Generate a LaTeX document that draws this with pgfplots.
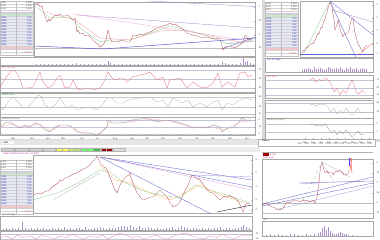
\documentclass[border=0pt]{standalone}
\usepackage{pgfplots}
\pgfplotsset{compat=1.18}
\usepackage{fontspec}
\setmainfont{Liberation Sans}
\definecolor{pr}{HTML}{B04858}
\definecolor{tlb}{HTML}{5A5AD0}
\definecolor{tlp}{HTML}{9A80C4}
\definecolor{tpk}{HTML}{E8A0D0}
\definecolor{rsi}{HTML}{E07080}
\definecolor{osc}{HTML}{B0B0B0}
\definecolor{grd}{HTML}{C4C4D4}
\definecolor{frm}{HTML}{A8A8A8}
\definecolor{vol}{HTML}{A890CC}
\definecolor{tblue}{HTML}{3040C0}
\definecolor{mag}{HTML}{C040A0}
\definecolor{grn}{HTML}{88CC88}
\newcommand\ft{\fontsize{2.4}{2.7}\selectfont}
\pgfplotsset{
 pan/.style={anchor=north west, y dir=reverse, clip=true, x=1pt, y=1pt,
   axis line style={draw=frm,line width=0.3pt}, xtick=\empty, ytick=\empty,
   tick label style={font=\ft, text=black!70}, yticklabel pos=right,
   major tick length=0.8pt, tick style={frm,line width=0.2pt},
   ymajorgrids, grid style={grd,line width=0.3pt},
   every axis plot/.append style={line width=0.3pt, mark=none}},
 vpan/.style={pan, y dir=normal, ymajorgrids=false},
 box/.style n args={4}{at={(#1pt,{240pt-#2pt})}, xmin=#1, xmax=#3, ymin=#2, ymax=#4},
 vbox/.style n args={4}{at={(#1pt,{240pt-#2pt})}, xmin=#1, xmax=#3, ymin=0, ymax=#4},
}
\begin{document}
\begin{tikzpicture}
\path[use as bounding box] (0,0) rectangle (380pt,240pt);
\clip (0,0) rectangle (380pt,240pt);
\fill[white] (0,0) rectangle (380pt,240pt);
% window chrome
\fill[gray!30] (262pt,100pt) rectangle (265pt,240pt);
\fill[gray!30] (0,98pt) rectangle (380pt,100.5pt);
% ---------- tables ----------
\foreach \ox/\oy in {0/1,265/2,0/160}{
 \begin{scope}[shift={(\ox pt,{240pt-\oy pt})}]
  \fill[white] (0,0) rectangle (33pt,-54pt);
  \fill[tlp!45] (0,-11pt) rectangle (33pt,-13pt);
  \fill[grn!45] (0,-13pt) rectangle (33pt,-15pt);
  \fill[tblue!12] (0,-15pt) rectangle (33pt,-45pt);
  \fill[rsi!40] (0,-46pt) rectangle (33pt,-49pt);
  \foreach \r in {1,...,17}{\draw[gray!35,line width=0.15pt] (0,{-\r*3pt}) -- (33pt,{-\r*3pt});}
  \draw[gray!50,line width=0.2pt] (16pt,0) -- (16pt,-54pt) (0,0) rectangle (33pt,-54pt);
  \foreach \r in {1,2,3}{\node[font=\ft,text=black!70,inner sep=0,anchor=west] at (1pt,{-\r*3pt+1.5pt}) {Kurs};
     \node[font=\ft,text=black!70,inner sep=0,anchor=east] at (32pt,{-\r*3pt+1.5pt}) {1,234};}
  \foreach \r in {6,...,15}{\node[font=\ft,text=tblue,inner sep=0,anchor=west] at (1pt,{-\r*3pt+1.5pt}) {Indik.};
     \node[font=\ft,text=tblue,inner sep=0,anchor=east] at (32pt,{-\r*3pt+1.5pt}) {0,52};}
  \node[font=\ft,text=rsi!90!black,inner sep=0,anchor=east] at (32pt,-51.5pt) {-12,5\%};
 \end{scope}}
% BL header / toolbar
\fill[gray!20] (0,{240pt-140pt}) rectangle (260pt,{240pt-145pt});
\fill[white] (2pt,{240pt-141pt}) rectangle (14pt,{240pt-144pt});
\node[font=\ft,inner sep=0,anchor=west] at (3pt,{240pt-142.5pt}) {Aktie};
\fill[gray!15] (0,{240pt-147pt}) rectangle (260pt,{240pt-152pt});
\foreach \a/\b/\c in {1/14/gray!35,15/28/gray!35,29/42/gray!35,43/55/gray!35,56/62/yellow!70,62/68/yellow!70,68/74/yellow!60!green!60,74/80/yellow!50!green!60,81/87/green!60,87/93/green!60,93/100/green!60!black!70,101/106/red!60!black,106/112/red!60!black,113/125/gray!25}{
  \fill[\c] (\a pt,{240pt-148pt}) rectangle (\b pt,{240pt-151.5pt});
  \draw[gray!60,line width=0.1pt] (\a pt,{240pt-148pt}) rectangle (\b pt,{240pt-151.5pt});}
\node[font=\ft,text=mag,inner sep=0,anchor=west] at (3pt,{240pt-153.5pt}) {Aktie Schlusskurs 1,234 \ (+0,8\%)};
% BR header
\draw[gray!60,line width=0.2pt,fill=white] (258pt,{240pt-139pt}) rectangle (375pt,{240pt-146pt});
\node[font=\ft,inner sep=0,anchor=west] at (262pt,{240pt-141pt}) {Datum};
\foreach \xx in {300,307,...,370}{\node[font=\ft,text=black!60,inner sep=0] at (\xx pt,{240pt-144pt}) {2011};}
\fill[red!60!black] (263pt,{240pt-153pt}) rectangle (269pt,{240pt-156pt});
\node[font=\ft,text=mag,inner sep=0,anchor=west] at (270pt,{240pt-154.5pt}) {Chart};
\node[font=\ft,text=mag,inner sep=0,anchor=west] at (263pt,{240pt-158pt}) {Aktie Kurs};
\draw[gray!60,line width=0.3pt] (262pt,{240pt-152pt}) -- (373pt,{240pt-152pt});

% =============== TOP LEFT ==================
\begin{axis}[pan, box={34}{2}{255}{56}, ymajorgrids=false,
  ytick={7,21,35,48}, yticklabels={1,60,1,40,1,20,1,00}]
\addplot[tlp] coordinates {(120,-0.5) (255,6.5)};
\addplot[tlp] coordinates {(77,15) (255,28)};
\addplot[tpk] coordinates {(73,14) (250,41)};
\addplot[gray!50] coordinates {(33,48) (255,48)};
\addplot[tlb,line width=0.5pt] coordinates {(33,46) (103,49) (255,38)};
\addplot[tlb] coordinates {(222,49) (255,37)};
\addplot[tlp] coordinates {(225,44) (255,41)};
\addplot[grn] coordinates {(38,8) (50,18) (70,17) (80,28) (100,42) (110,40) (130,40) (150,33) (170,26) (190,31) (210,37) (225,43) (240,44) (252,40)};
\addplot[tpk!80!orange] coordinates {(45,12) (75,20) (100,38) (130,40) (160,31) (185,30) (215,37) (240,42) (252,41)};
\addplot[pr] coordinates {(35,4) (37,5) (38,3) (40,7) (42,6) (43,10) (45,16) (47,22) (49,19) (50,21) (53,17) (55,15) (57,16) (60,14) (62,16) (65,16) (68,15) (70,17) (73,20) (75,18) (77,32) (78,30) (80,34) (83,33) (85,36) (88,35) (90,37) (93,40) (95,42) (98,44) (100,47) (103,45) (106,40) (108,30) (110,38) (112,42) (115,41) (118,42) (121,40) (124,41) (127,42) (130,42) (133,35) (136,36) (140,34) (143,35) (147,33) (150,32) (152,31) (155,29) (157,28) (160,27) (163,26) (167,25) (170,23) (173,25) (175,24) (178,26) (180,27) (184,30) (187,33) (190,34) (192,35) (197,36) (200,37) (203,38) (207,37) (210,38) (215,39) (218,38) (220,40) (222,46) (223,50) (225,47) (228,46) (230,46) (233,47) (235,48) (238,46) (241,44) (243,42) (245,35) (247,37) (248,40) (250,39) (252,40)};
\end{axis}
% volume
\begin{axis}[vpan, vbox={0}{57}{255}{8}]
\addplot[ycomb,vol] coordinates {(36,1) (40,0.8) (44,1.2) (48,0.6) (52,1) (56,0.7) (60,1.3) (64,0.8) (68,1) (72,0.6) (76,1.5) (80,0.9) (84,0.7) (88,1.1) (92,0.8) (96,1) (100,1.2) (104,1.4) (108,4) (110,2) (114,1) (118,0.8) (122,1) (126,0.7) (130,1.1) (134,0.9) (138,1.3) (142,0.8) (146,1) (150,0.7) (154,1.2) (158,0.9) (162,1) (166,0.8) (170,1.1) (174,0.7) (178,1) (182,0.9) (186,1.2) (190,0.8) (194,1) (198,0.7) (202,0.9) (206,1.1) (210,0.8) (214,1) (218,1.2) (222,2.5) (225,2) (228,1.2) (232,1) (236,1.3) (240,1.5) (243,7) (245,3) (247,4) (250,1.5) (253,1)};
\end{axis}
% red oscillator
\begin{axis}[pan, box={0}{66}{255}{92}, ytick={70,79,88}, yticklabels={70,50,30}]
\addplot[rsi] coordinates {(0,88) (3,82) (8,75) (12,70) (15,71) (17,73) (20,80) (23,88) (28,88) (33,87) (37,78) (40,72) (43,82) (48,88) (53,85) (57,78) (60,75) (63,83) (65,88) (70,87) (73,80) (77,88) (80,90) (87,88) (93,90) (100,88) (105,80) (108,72) (112,78) (115,80) (120,78) (123,78) (127,82) (132,77) (140,75) (145,74) (150,72) (157,80) (163,77) (167,88) (170,80) (175,79) (180,78) (187,88) (193,82) (200,87) (207,88) (213,83) (218,73) (222,87) (228,82) (235,87) (240,73) (245,72) (248,77) (252,75)};
\end{axis}
\node[font=\ft,text=rsi,inner sep=0,anchor=west] at (2pt,{240pt-67.5pt}) {RSI (14) 64,2};
% gray oscillator
\begin{axis}[pan, box={0}{93}{255}{117}, ytick={97,107,114}, yticklabels={80,50,20}]
\addplot[osc] coordinates {(0,105) (3,110) (8,102) (13,97) (18,102) (23,108) (28,107) (33,102) (38,95) (42,97) (45,105) (50,108) (55,105) (60,98) (63,103) (67,108) (72,105) (77,110) (83,108) (90,107) (97,110) (102,105) (107,98) (112,98) (117,103) (123,103) (128,100) (133,99) (140,98) (150,97) (157,102) (163,100) (168,107) (173,98) (182,103) (188,100) (193,107) (200,103) (207,107) (213,102) (218,100) (222,110) (227,103) (233,105) (240,100) (245,98) (252,100)};
\end{axis}
\node[font=\ft,text=green!50!black,inner sep=0,anchor=west] at (2pt,{240pt-94.5pt}) {Stoch. 14 3};
% third panel
\begin{axis}[pan, box={0}{117}{255}{135}, ytick={120,127,134}, yticklabels={0,04,0,00,-0,04},
  xtick={13,32,48,63,82,97,115,132,147,163,180,197,213,230,247},
  xticklabels={Feb,Mrz,Apr,Mai,Jun,Jul,Aug,Sep,Okt,Nov,Dez,Jan,Feb,Mrz,Apr},
  xticklabel style={yshift=0.8pt}]
\addplot[osc!80!black] coordinates {(0,127) (5,123) (10,122) (15,125) (20,128) (25,125) (30,127) (35,123) (40,125) (45,130) (50,132) (55,127) (60,125) (67,125) (72,127) (77,132) (83,133) (90,133) (97,135) (100,133) (107,127) (108,120) (112,123) (120,123) (127,122) (132,120) (140,119) (147,118) (157,122) (167,120) (177,122) (187,125) (193,128) (200,127) (207,128) (213,125) (220,127) (222,132) (227,128) (233,128) (238,123) (242,118) (245,120) (252,120)};
\addplot[rsi!60] coordinates {(0,128) (10,124) (20,127) (30,126) (40,124) (50,131) (60,126) (70,126) (80,132) (90,134) (100,134) (110,122) (130,122) (150,119) (170,121) (190,127) (210,127) (225,130) (240,122) (252,121)};
\end{axis}
\node[font=\ft,text=black!60,inner sep=0,anchor=west] at (2pt,{240pt-118.5pt}) {MACD (12,26,9)};

% =============== TOP RIGHT ==================
\begin{axis}[pan, box={300}{1}{373}{57}, ymajorgrids=false,
  ytick={5,18,31,44,54}, yticklabels={2,0,1,8,1,6,1,4,1,2}]
\addplot[tlb] coordinates {(300,54) (373,54)};
\addplot[tlb] coordinates {(330,1) (373,35)};
\addplot[tlb] coordinates {(330,1) (358,62)};
\addplot[tlp] coordinates {(332,10) (373,22)};
\addplot[grn] coordinates {(303,55) (330,1)};
\addplot[red!60] coordinates {(358,55) (373,43)};
\addplot[pr] coordinates {(302,53) (303,51) (305,50) (306,48) (308,47) (310,45) (312,43) (313,44) (315,40) (316,38) (318,33) (319,34) (321,27) (322,28) (323,23) (325,19) (326,15) (327,12) (328,8) (329,5) (330,2) (331,4) (332,7) (333,14) (334,20) (335,30) (336,27) (337,25) (338,20) (339,24) (340,28) (341,32) (343,37) (344,34) (345,35) (346,33) (348,33) (349,30) (350,25) (351,21) (352,18) (353,18) (354,26) (355,33) (356,37) (357,40) (358,44) (360,47) (361,49) (362,50) (363,52) (364,49) (365,47) (366,46) (367,45)};
\end{axis}
\begin{axis}[vpan, vbox={265}{58}{373}{14}]
\addplot[ycomb,vol] coordinates {(302,2) (304,3) (306,2.5) (308,4) (310,3) (312,2) (314,5) (316,3) (318,2.5) (320,4) (322,3) (324,2) (326,3) (328,5) (330,4) (332,3) (334,2.5) (336,4) (338,3) (340,5) (342,3) (344,2) (346,4) (348,3) (350,5) (352,2.5) (354,3) (356,4) (358,2) (360,3) (362,4) (364,2.5) (366,3)};
\end{axis}
\node[font=\ft,text=tblue,inner sep=0,anchor=west] at (267pt,{240pt-59.5pt}) {Vol. 20 Tage};
\begin{axis}[pan, box={265}{75}{373}{98}, ytick={80,88,95}, yticklabels={70,50,30}]
\addplot[rsi] coordinates {(310,80) (313,78) (316,82) (319,79) (322,81) (325,78) (328,80) (331,84) (334,92) (337,88) (340,95) (343,90) (346,93) (349,86) (352,80) (354,84) (356,92) (359,94) (362,90) (365,93)};
\end{axis}
\node[font=\ft,text=rsi,inner sep=0,anchor=west] at (267pt,{240pt-76.5pt}) {RSI (14)};
\begin{axis}[pan, box={265}{100}{373}{118}, ytick={103,112}, yticklabels={80,20}]
\addplot[osc] coordinates {(310,105) (313,104) (316,106) (319,104) (322,105) (325,104) (328,107) (331,112) (334,108) (337,114) (340,110) (343,113) (346,108) (349,112) (352,115) (355,112) (358,108) (361,113) (364,112)};
\end{axis}
\begin{axis}[pan, box={265}{118}{373}{139}, ytick={124,132}, yticklabels={0,1,0,0},
  xtick={305,313,321,329,337,345,353,361,369}, xticklabels={Mai,Jun,Jul,Aug,Sep,Okt,Nov,Dez,Jan},
  xticklabel style={yshift=0.8pt}]
\addplot[osc!80!black] coordinates {(310,125) (313,124) (316,126) (319,125) (322,126) (325,124) (328,128) (331,133) (334,130) (337,135) (340,131) (343,134) (346,130) (349,133) (352,137) (355,134) (358,131) (361,135) (364,134)};
\end{axis}
\node[font=\ft,text=black!60,inner sep=0,anchor=west] at (267pt,{240pt-119.5pt}) {MACD (12,26,9)};

% =============== BOTTOM LEFT ==================
\begin{axis}[pan, box={33}{155}{252}{213}, ymajorgrids=false,
  ytick={160,173,187,200,210}, yticklabels={3,0,2,5,2,0,1,5,1,0}]
\addplot[tlb] coordinates {(100,157) (252,180)};
\addplot[tlb] coordinates {(100,157) (252,187)};
\addplot[tlb] coordinates {(100,157) (217,217)};
\addplot[tpk] coordinates {(100,157) (252,190)};
\addplot[tlb!70] coordinates {(193,175) (252,177)};
\addplot[black!80,line width=0.45pt] coordinates {(217,212) (252,205)};
\addplot[gray!60] coordinates {(53,200) (100,173)};
\addplot[grn] coordinates {(33,200) (60,192) (80,182) (100,170) (110,172) (120,180) (140,190) (160,195) (180,198) (195,185) (210,190) (230,196) (250,203)};
\addplot[orange!60] coordinates {(100,165) (115,180) (130,183) (150,193) (170,200) (185,193) (200,185) (220,195) (245,203)};
\addplot[pr] coordinates {(33,195) (36,194) (38,193) (41,194) (44,192) (47,191) (50,190) (52,187) (55,185) (58,183) (60,180) (62,181) (65,178) (68,177) (70,176) (73,174) (77,173) (80,171) (83,169) (86,168) (90,165) (92,162) (94,160) (96,158) (97,156) (99,160) (100,163) (102,165) (104,167) (106,168) (107,170) (109,175) (111,180) (113,185) (114,188) (116,191) (117,193) (119,188) (120,185) (122,182) (123,180) (125,178) (127,176) (129,175) (130,173) (131,178) (133,183) (135,188) (137,193) (139,195) (140,197) (142,199) (143,200) (146,199) (148,198) (151,197) (153,197) (155,195) (157,193) (159,191) (160,190) (162,192) (164,194) (166,196) (167,197) (169,200) (170,203) (172,205) (173,207) (175,206) (177,205) (179,203) (180,202) (182,198) (183,195) (185,191) (187,187) (189,183) (190,180) (191,177) (192,175) (194,176) (196,178) (198,179) (200,180) (202,183) (204,186) (206,188) (207,190) (209,191) (210,192) (212,193) (213,193) (215,195) (217,197) (219,199) (220,200) (222,198) (224,196) (226,197) (227,197) (229,196) (230,195) (232,197) (234,198) (236,199) (237,200) (239,203) (240,205) (242,209) (243,212) (244,209) (245,206) (246,204) (247,203) (249,204) (250,204)};
\end{axis}
\node[font=\ft,text=black!60,inner sep=0,anchor=west] at (2pt,{240pt-214.5pt}) {Vol. 20 Tage};
\begin{axis}[vpan, vbox={0}{216}{252}{14}]
\addplot[ycomb,vol] coordinates {(3,1) (6,1.5) (9,1) (12,2) (15,1.2) (18,1.8) (22,8) (25,1.5) (28,1) (31,2) (34,1.3) (37,1.6) (40,1) (43,2.2) (46,1.4) (49,1) (52,2) (55,1.2) (58,1.7) (61,1) (64,2.5) (67,1.3) (70,1.8) (73,1) (76,2) (79,1.5) (82,1.2) (85,2.6) (88,1.4) (91,1) (94,2) (97,1.5) (100,3) (103,1.8) (106,1.2) (109,2.4) (112,1.6) (115,2) (118,3) (121,4) (124,3.5) (127,2.5) (130,4.5) (133,3) (136,2.2) (139,3.5) (142,2) (145,1.5) (148,2.5) (151,1.8) (154,1.2) (157,2) (160,1.4) (163,1) (166,2.2) (169,1.6) (172,2.8) (175,1.2) (178,2) (181,3.5) (184,2.5) (187,1.8) (190,1.2) (193,2) (196,1.5) (199,1) (202,2.2) (205,1.4) (208,1.8) (211,1) (214,2) (217,1.5) (220,2.6) (223,1.3) (226,2) (229,1.5) (232,1.2) (235,2.2) (238,1.6) (241,3) (243,5) (246,2.5) (249,1.5)};
\end{axis}
\begin{axis}[pan, box={0}{231}{252}{241}, ytick={234,239}, yticklabels={70,30}]
\addplot[rsi!80] coordinates {(0,238) (6,236) (12,239) (18,235) (24,238) (30,236) (36,239) (42,235) (48,237) (54,239) (60,236) (66,238) (72,234) (78,237) (84,239) (90,236) (96,238) (102,235) (108,239) (114,236) (120,233) (126,235) (132,238) (138,236) (144,239) (150,237) (156,235) (162,238) (168,239) (174,236) (180,234) (186,233) (192,236) (198,238) (204,239) (210,236) (216,238) (222,234) (228,237) (234,239) (240,236) (246,235) (252,236)};
\end{axis}

% =============== BOTTOM RIGHT ==================
\begin{axis}[pan, box={262}{159}{373}{218}, ymajorgrids=false,
  ytick={163,173,183,193,203,213}, yticklabels={0,30,0,25,0,20,0,15,0,10,0,05}]
\addplot[gray!50] coordinates {(262,203) (373,203)};
\addplot[gray!50] coordinates {(262,213) (373,213)};
\addplot[tlp,line width=0.5pt] coordinates {(300,183) (373,181)};
\addplot[tlb] coordinates {(262,206) (373,183)};
\addplot[tlb] coordinates {(262,204) (373,177)};
\addplot[tlb!60] coordinates {(275,210) (373,186)};
\addplot[gray!60] coordinates {(322,162) (350,177)};
\addplot[gray!60] coordinates {(322,163) (333,180)};
\addplot[grn,dashed] coordinates {(303,200) (322,163)};
\addplot[tlp] coordinates {(300,184) (318,183)};
\addplot[pr] coordinates {(262,205) (265,203) (268,205) (270,206) (273,207) (275,208) (278,209) (280,210) (282,209) (283,208) (285,205) (286,203) (288,202) (290,203) (292,201) (295,200) (298,201) (300,202) (303,200) (305,201) (307,200) (310,202) (313,200) (315,203) (317,197) (318,190) (319,183) (320,172) (321,165) (322,162) (323,167) (324,170) (325,173) (327,171) (328,173) (330,172) (332,172) (333,175) (335,172) (337,171) (338,172) (340,170) (342,172) (344,175) (345,175) (347,174) (348,173) (349,170)};
\addplot[blue!70,line width=0.45pt] coordinates {(349,152) (349,166)};
\addplot[red!70,line width=0.45pt] coordinates {(350,170) (351,163) (352,157) (353,152)};
\addplot[red!70,line width=0.45pt] coordinates {(350,152) (352,173)};
\end{axis}
\begin{axis}[vpan, vbox={262}{221}{373}{15}]
\addplot[ycomb,vol] coordinates {(266,1) (270,1.5) (274,1) (278,2) (282,1.2) (286,1) (290,1.5) (294,2) (298,1) (302,1.3) (306,1.8) (310,1) (314,1.5) (318,2.5) (320,4) (322,8) (324,10) (326,6) (328,9) (330,5) (332,3) (334,2) (336,1.5) (338,2.5) (340,4) (342,3) (344,2) (346,1.5) (348,1) (352,1.2)};
\end{axis}
\node[font=\ft,text=black!60,inner sep=0,anchor=west] at (263pt,{240pt-220pt}) {Vol.};
\end{tikzpicture}
\end{document}
